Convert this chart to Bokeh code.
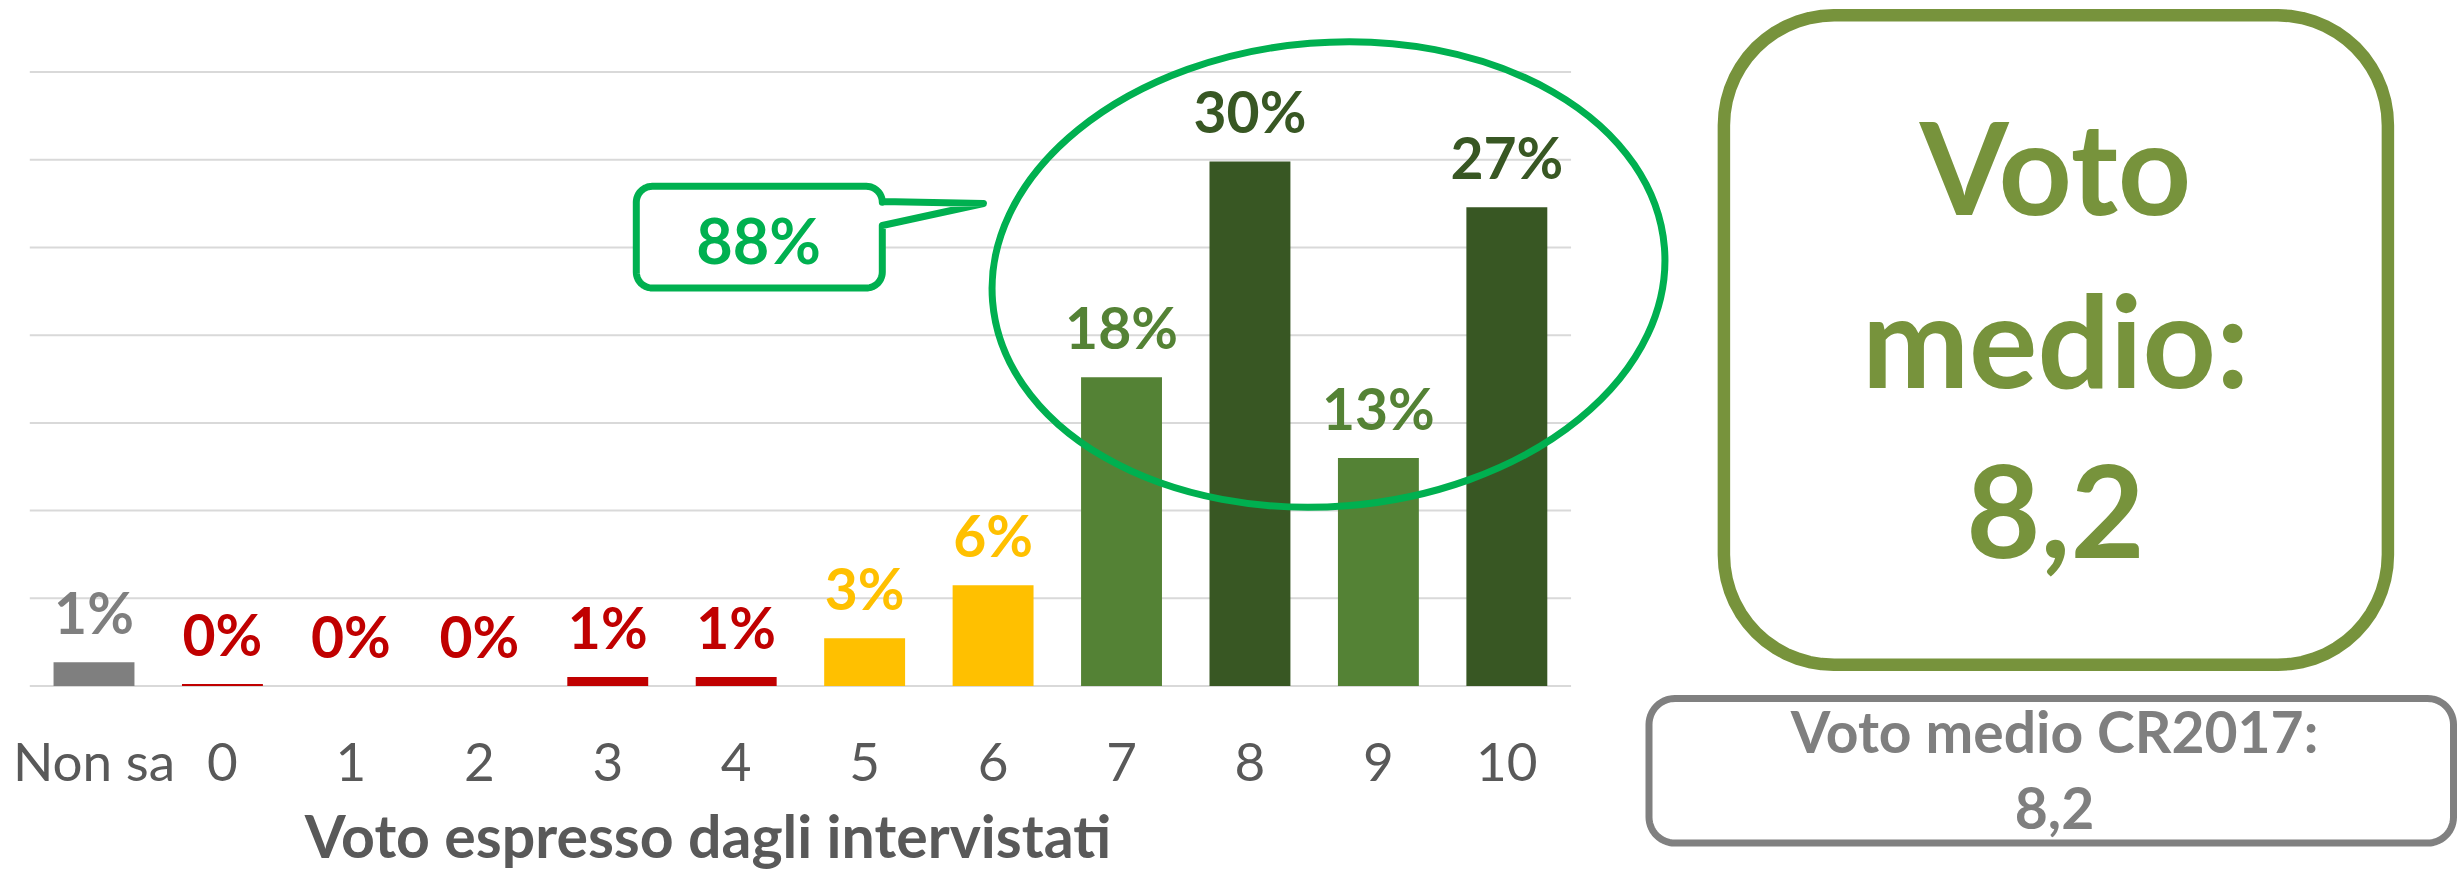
import math
from bokeh.plotting import figure
from bokeh.models import Range1d, LinearAxis, FixedTicker, ColumnDataSource
from bokeh.core.properties import value
from bokeh.embed import file_html
from bokeh.resources import INLINE

# ---------------- data ----------------
categories = ["Non sa", "0", "1", "2", "3", "4", "5", "6", "7", "8", "9", "10"]
percent = [1.35, 0.12, 0.0, 0.0, 0.51, 0.51, 2.72, 5.74, 17.6, 29.9, 13.0, 27.3]
labels = ["1%", "0%", "0%", "0%", "1%", "1%", "3%", "6%", "18%", "30%", "13%", "27%"]
bar_colors = ["#7F7F7F", "#C00000", "#C00000", "#C00000", "#C00000", "#C00000",
              "#FFC000", "#FFC000", "#548235", "#385723", "#548235", "#385723"]
grid_values = [0, 5, 10, 15, 20, 25, 30, 35]
callout_text = "88%"
mean_lines = ["Voto", "medio:", "8,2"]
prev_lines = ["Voto medio CR2017:", "8,2"]
axis_title = "Voto espresso dagli intervistati"

# ---------------- geometry (page pixels -> data) ----------------
W, H = 2458, 875
XPX = 128.44          # pixels per category
YPX = 17.54           # pixels per percentage point
x_start = -93.5 / XPX
x_end = x_start + W / XPX
y_end = 685.5 / YPX
y_start = y_end - H / YPX
BASE_FIX = 0.39       # baseline correction (fraction of font size)


def dx(X):
    return x_start + X / XPX


def dy(Y):
    return y_end - Y / YPX


def rrect(x0, y0, x1, y1, r, tail=None, n=14):
    pts = []
    def arc(cx, cy, a0, a1):
        for k in range(n + 1):
            t = math.radians(a0 + (a1 - a0) * k / n)
            pts.append((cx + r * math.cos(t), cy + r * math.sin(t)))
    arc(x0 + r, y0 + r, 180, 270)
    arc(x1 - r, y0 + r, 270, 360)
    if tail:
        pts.extend(tail)
    arc(x1 - r, y1 - r, 0, 90)
    arc(x0 + r, y1 - r, 90, 180)
    return [dx(p[0]) for p in pts], [dy(p[1]) for p in pts]


p = figure(width=W, height=H, x_range=Range1d(x_start, x_end), y_range=Range1d(y_start, y_end),
           output_backend="svg", toolbar_location=None, x_axis_type=None, y_axis_type=None,
           min_border=0)
p.outline_line_color = None
p.background_fill_color = "white"
p.border_fill_color = "white"

xs = list(range(len(categories)))

# gridlines
p.segment(x0=[-0.5] * len(grid_values), x1=[11.5] * len(grid_values), y0=grid_values, y1=grid_values,
          line_color="#D9D9D9", line_width=2)

src = ColumnDataSource(dict(x=xs, top=percent, color=bar_colors, label=labels))
p.vbar(x="x", top="top", bottom=0, width=0.63, fill_color="color", line_color=None, source=src)
p.text(x="x", y="top", text="label", text_color="color", source=src, text_align="center",
       text_baseline="alphabetic", y_offset=-(28 + BASE_FIX * 57), text_font=value("Lato"),
       text_font_style="bold", text_font_size="57px")

# category axis
xaxis = LinearAxis(fixed_location=0, ticker=FixedTicker(ticks=xs),
                   major_label_overrides={i: c for i, c in enumerate(categories)})
xaxis.axis_line_color = None
xaxis.major_tick_line_color = None
xaxis.minor_tick_line_color = None
xaxis.major_tick_out = 0
xaxis.major_tick_in = 0
xaxis.major_label_standoff = 43
xaxis.major_label_text_font = "Lato"
xaxis.major_label_text_font_size = "53px"
xaxis.major_label_text_color = "#595959"
p.add_layout(xaxis, "below")

# axis title (placed off-centre as in the original)
title_axis = LinearAxis(fixed_location=0, ticker=FixedTicker(ticks=[]), bounds=(-0.5, 10.06))
title_axis.axis_line_color = None
title_axis.major_tick_line_color = None
title_axis.minor_tick_line_color = None
title_axis.major_tick_out = 0
title_axis.major_tick_in = 0
title_axis.axis_label = axis_title
title_axis.axis_label_text_font = "Lato"
title_axis.axis_label_text_font_style = "bold"
title_axis.axis_label_text_font_size = "59px"
title_axis.axis_label_text_color = "#595959"
title_axis.axis_label_standoff = 113
p.add_layout(title_axis, "below")

# callout
tail = [(881.8, 201.0), (983.0, 203.0), (881.8, 225.0)]
cx_, cy_ = rrect(635.8, 185.8, 881.8, 287.5, 16, tail=tail)
p.patch(cx_, cy_, fill_color="white", line_color="#00B050", line_width=7, line_join="round")
p.text(x=[dx(758)], y=[dy(264)], text=[callout_text], text_color="#00B050", text_align="center",
       text_baseline="alphabetic", y_offset=-BASE_FIX * 63, text_font=value("Lato"),
       text_font_style="bold", text_font_size="63px")

# ellipse
p.ellipse(x=[dx(1328)], y=[dy(274)], width=[674], height=[464], width_units="screen",
          height_units="screen", angle=0.08, fill_alpha=0, line_color="#00B050", line_width=7)

# big box
bx, by = rrect(1723.4, 14.8, 2387.4, 664.3, 110)
p.patch(bx, by, fill_color="white", line_color="#77933C", line_width=12.5)
p.text(x=[dx(2055)] * 3, y=[dy(214.8), dy(388), dy(561)], text=mean_lines, text_color="#77933C",
       text_align="center", text_baseline="alphabetic", y_offset=-BASE_FIX * 128,
       text_font=value("Lato"), text_font_style="bold", text_font_size="128px")

# previous year box
gx, gy = rrect(1648.5, 698, 2453, 842.6, 26)
p.patch(gx, gy, fill_color="white", line_color="#808080", line_width=7)
p.text(x=[dx(2054)] * 2, y=[dy(753), dy(830)], text=prev_lines, text_color="#7F7F7F",
       text_align="center", text_baseline="alphabetic", y_offset=-BASE_FIX * 57,
       text_font=value("Lato"), text_font_style="bold", text_font_size="57px")

open("out.html", "w").write(file_html(p, INLINE))
